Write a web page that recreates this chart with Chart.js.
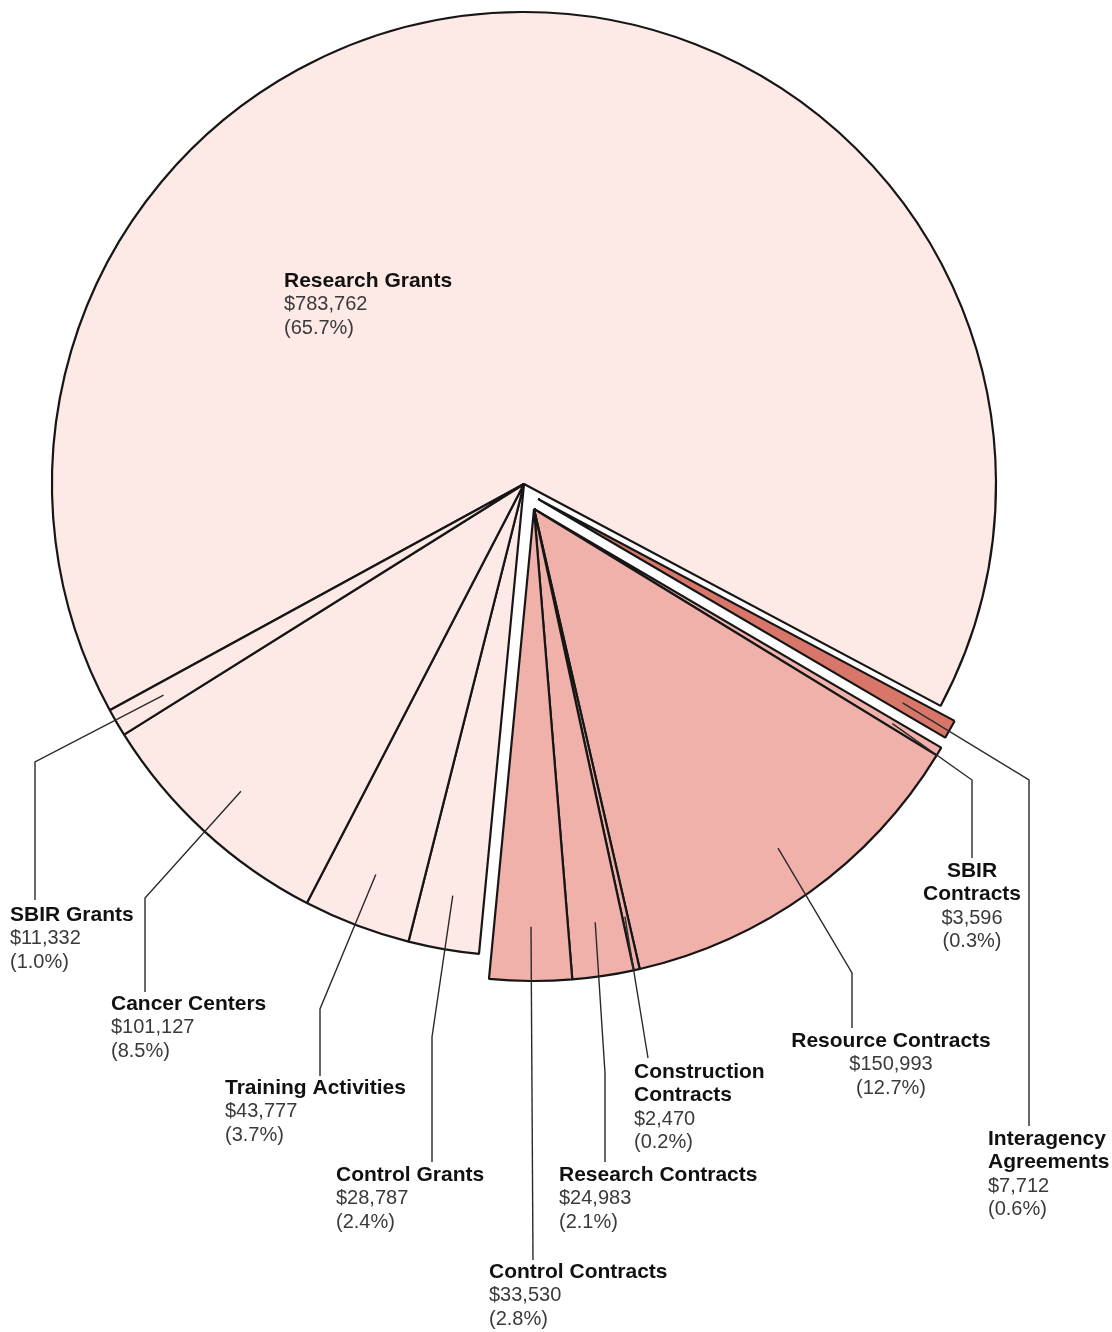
<!DOCTYPE html>
<html>
<head>
<meta charset="utf-8">
<title>Obligations by Mechanism</title>
<script src="https://cdn.jsdelivr.net/npm/chart.js@4.4.1/dist/chart.umd.min.js"></script>
<style>
  html, body { margin: 0; padding: 0; background: #fff; }
  #wrap { position: relative; width: 1112px; height: 1332px; }
</style>
</head>
<body>
<div id="wrap"><canvas id="pieChart" width="1112" height="1332"></canvas></div>
<script>
// slices in clockwise order, starting with Research Grants
const names = [
  ['Research Grants'], ['Interagency', 'Agreements'], ['SBIR', 'Contracts'],
  ['Resource Contracts'], ['Construction', 'Contracts'], ['Research Contracts'],
  ['Control Contracts'], ['Control Grants'], ['Training Activities'],
  ['Cancer Centers'], ['SBIR Grants']
];
const amounts = [783762, 7712, 3596, 150993, 2470, 24983, 33530, 28787, 43777, 101127, 11332];
const percents = [65.7, 0.6, 0.3, 12.7, 0.2, 2.1, 2.8, 2.4, 3.7, 8.5, 1.0];
const groups = ['grants', 'interagency', 'contracts', 'contracts', 'contracts', 'contracts',
  'contracts', 'grants', 'grants', 'grants', 'grants'];

// look of each group: fill colour and how far the group is pulled out
const groupFill = { grants: '#fde9e5', interagency: '#d8766a', contracts: '#efb1aa' };
const groupShift = { grants: [0, 0], interagency: [14, 15], contracts: [10, 25] };

// where each label sits and the bends of its leader line (null = label inside the slice)
const labelLayout = [
  { x: 284, y: 281, align: 'left', path: null },
  { x: 988, y: 1139, align: 'left', path: [[1029, 780], [1029, 1126]] },
  { x: 972, y: 871, align: 'center', path: [[972, 780], [972, 858]] },
  { x: 891, y: 1041, align: 'center', path: [[852, 973], [852, 1028]] },
  { x: 634, y: 1072, align: 'left', path: [[648, 1058]] },
  { x: 559, y: 1175, align: 'left', path: [[605, 1073], [605, 1162]] },
  { x: 489, y: 1272, align: 'left', path: [[533, 1260]] },
  { x: 336, y: 1175, align: 'left', path: [[432, 1037], [432, 1162]] },
  { x: 225, y: 1088, align: 'left', path: [[320, 1009], [320, 1076]] },
  { x: 111, y: 1004, align: 'left', path: [[145, 898], [145, 992]] },
  { x: 10, y: 915, align: 'left', path: [[35, 762], [35, 900]] }
];

// draw each group shifted as a block
const explodeGroups = {
  id: 'explodeGroups',
  beforeDatasetDraw(chart, args) {
    const ctx = chart.ctx;
    args.meta.data.forEach((arc, i) => {
      const s = groupShift[groups[i]];
      ctx.save();
      ctx.translate(s[0], s[1]);
      arc.draw(ctx);
      ctx.restore();
    });
    return false;
  }
};

const calloutLabels = {
  id: 'calloutLabels',
  afterDatasetsDraw(chart) {
    const ctx = chart.ctx;
    const meta = chart.getDatasetMeta(0);
    meta.data.forEach((arc, i) => {
      const lay = labelLayout[i];
      const s = groupShift[groups[i]];
      if (lay.path) {
        const mid = (arc.startAngle + arc.endAngle) / 2;
        const r = arc.outerRadius * 0.885;
        ctx.save();
        ctx.strokeStyle = '#2a2a2a';
        ctx.lineWidth = 1.4;
        ctx.beginPath();
        ctx.moveTo(arc.x + s[0] + Math.cos(mid) * r, arc.y + s[1] + Math.sin(mid) * r);
        lay.path.forEach(p => ctx.lineTo(p[0], p[1]));
        ctx.stroke();
        ctx.restore();
      }
      ctx.save();
      ctx.textAlign = lay.align;
      ctx.textBaseline = 'middle';
      let y = lay.y;
      ctx.fillStyle = '#111';
      ctx.font = 'bold 21px "Liberation Sans", Arial, sans-serif';
      names[i].forEach(line => { ctx.fillText(line, lay.x, y); y += 23.5; });
      ctx.fillStyle = '#3a3a3a';
      ctx.font = '20px "Liberation Sans", Arial, sans-serif';
      ctx.fillText('$' + amounts[i].toLocaleString('en-US'), lay.x, y); y += 23.5;
      ctx.fillText('(' + percents[i].toFixed(1) + '%)', lay.x, y);
      ctx.restore();
    });
  }
};

const ctx = document.getElementById('pieChart').getContext('2d');
const pieChart = new Chart(ctx, {
  type: 'pie',
  data: {
    labels: names.map(n => n.join(' ')),
    datasets: [{
      data: amounts,
      backgroundColor: groups.map(g => groupFill[g]),
      borderColor: '#161616',
      borderWidth: 2.2,
      borderJoinStyle: 'bevel'
    }]
  },
  options: {
    responsive: false,
    animation: false,
    devicePixelRatio: 1,
    rotation: 241.35,
    radius: 472,
    layout: { padding: { left: 50, top: 10, right: 114, bottom: 374 } },
    plugins: {
      legend: { display: false },
      tooltip: { enabled: false }
    }
  },
  plugins: [explodeGroups, calloutLabels]
});
</script>
</body>
</html>
